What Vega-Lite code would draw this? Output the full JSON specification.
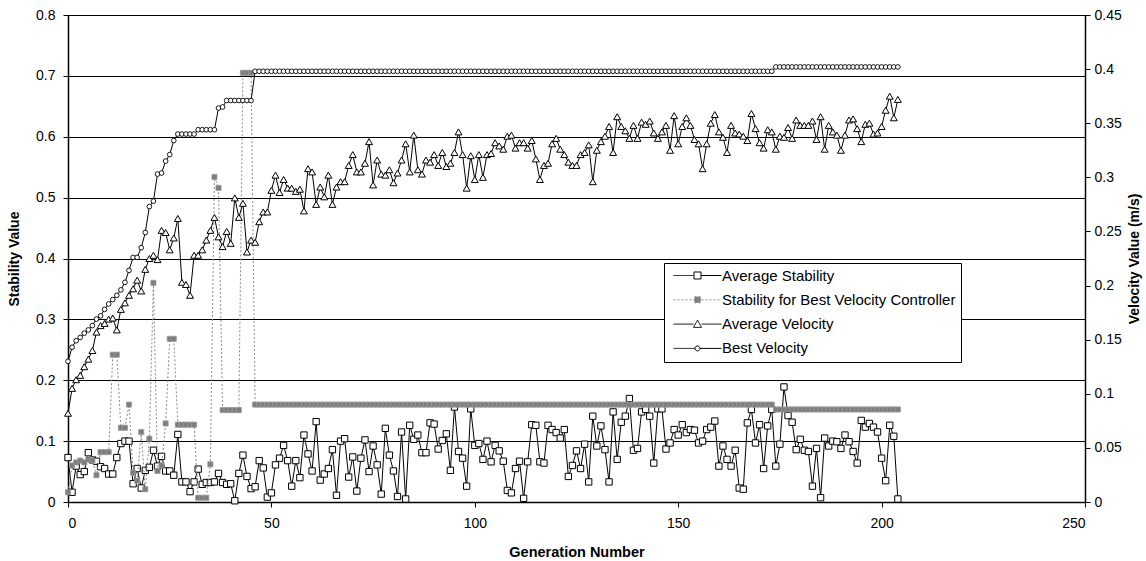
{
  "$schema": "https://vega.github.io/schema/vega-lite/v6.json",
  "width": 1017,
  "height": 487,
  "autosize": "none",
  "padding": {"left": 68, "top": 15, "right": 61, "bottom": 59},
  "background": "white",
  "config": {
    "view": {"stroke": null},
    "font": "Liberation Sans",
    "axis": {
      "labelFont": "Liberation Sans",
      "titleFont": "Liberation Sans",
      "labelColor": "black",
      "titleColor": "black",
      "domainColor": "black",
      "tickColor": "black",
      "labelFontSize": 14,
      "titleFontSize": 14,
      "titleFontWeight": "bold"
    },
    "legend": {
      "orient": "none", "legendX": 596, "legendY": 248, "title": null,
      "strokeColor": "black", "fillColor": "white", "padding": 5,
      "symbolSize": 36, "symbolStrokeWidth": 1,
      "labelFontSize": 15, "labelFont": "Liberation Sans", "labelColor": "black",
      "labelLimit": 0, "rowPadding": 8.3, "labelOffset": 38
    }
  },
  "data": {
    "values": [
      {"gen":0,"avgStab":0.073,"stabBest":0.016,"avgVel":0.082,"bestVel":0.13},
      {"gen":1,"avgStab":0.016,"stabBest":0.06,"avgVel":0.105,"bestVel":0.143},
      {"gen":2,"avgStab":0.059,"stabBest":0.065,"avgVel":0.113,"bestVel":0.149},
      {"gen":3,"avgStab":0.045,"stabBest":0.068,"avgVel":0.117,"bestVel":0.152},
      {"gen":4,"avgStab":0.05,"stabBest":0.065,"avgVel":0.125,"bestVel":0.156},
      {"gen":5,"avgStab":0.081,"stabBest":0.07,"avgVel":0.132,"bestVel":0.159},
      {"gen":6,"avgStab":0.069,"stabBest":0.068,"avgVel":0.14,"bestVel":0.163},
      {"gen":7,"avgStab":0.067,"stabBest":0.044,"avgVel":0.157,"bestVel":0.169},
      {"gen":8,"avgStab":0.058,"stabBest":0.082,"avgVel":0.163,"bestVel":0.172},
      {"gen":9,"avgStab":0.055,"stabBest":0.082,"avgVel":0.165,"bestVel":0.178},
      {"gen":10,"avgStab":0.046,"stabBest":0.082,"avgVel":0.169,"bestVel":0.183},
      {"gen":11,"avgStab":0.046,"stabBest":0.242,"avgVel":0.17,"bestVel":0.187},
      {"gen":12,"avgStab":0.073,"stabBest":0.242,"avgVel":0.159,"bestVel":0.191},
      {"gen":13,"avgStab":0.096,"stabBest":0.122,"avgVel":0.178,"bestVel":0.196},
      {"gen":14,"avgStab":0.1,"stabBest":0.122,"avgVel":0.184,"bestVel":0.203},
      {"gen":15,"avgStab":0.1,"stabBest":0.16,"avgVel":0.191,"bestVel":0.214},
      {"gen":16,"avgStab":0.03,"stabBest":0.048,"avgVel":0.197,"bestVel":0.226},
      {"gen":17,"avgStab":0.055,"stabBest":0.035,"avgVel":0.205,"bestVel":0.226},
      {"gen":18,"avgStab":0.023,"stabBest":0.115,"avgVel":0.195,"bestVel":0.235},
      {"gen":19,"avgStab":0.052,"stabBest":0.021,"avgVel":0.215,"bestVel":0.249},
      {"gen":20,"avgStab":0.057,"stabBest":0.104,"avgVel":0.225,"bestVel":0.273},
      {"gen":21,"avgStab":0.085,"stabBest":0.36,"avgVel":0.228,"bestVel":0.278},
      {"gen":22,"avgStab":0.059,"stabBest":0.051,"avgVel":0.224,"bestVel":0.303},
      {"gen":23,"avgStab":0.075,"stabBest":0.06,"avgVel":0.251,"bestVel":0.304},
      {"gen":24,"avgStab":0.051,"stabBest":0.129,"avgVel":0.249,"bestVel":0.315},
      {"gen":25,"avgStab":0.051,"stabBest":0.268,"avgVel":0.233,"bestVel":0.321},
      {"gen":26,"avgStab":0.044,"stabBest":0.268,"avgVel":0.244,"bestVel":0.334},
      {"gen":27,"avgStab":0.111,"stabBest":0.127,"avgVel":0.262,"bestVel":0.34},
      {"gen":28,"avgStab":0.033,"stabBest":0.127,"avgVel":0.203,"bestVel":0.34},
      {"gen":29,"avgStab":0.033,"stabBest":0.127,"avgVel":0.201,"bestVel":0.34},
      {"gen":30,"avgStab":0.017,"stabBest":0.127,"avgVel":0.191,"bestVel":0.34},
      {"gen":31,"avgStab":0.033,"stabBest":0.127,"avgVel":0.228,"bestVel":0.34},
      {"gen":32,"avgStab":0.054,"stabBest":0.007,"avgVel":0.228,"bestVel":0.344},
      {"gen":33,"avgStab":0.029,"stabBest":0.007,"avgVel":0.233,"bestVel":0.344},
      {"gen":34,"avgStab":0.032,"stabBest":0.007,"avgVel":0.242,"bestVel":0.344},
      {"gen":35,"avgStab":0.032,"stabBest":0.062,"avgVel":0.251,"bestVel":0.344},
      {"gen":36,"avgStab":0.033,"stabBest":0.534,"avgVel":0.263,"bestVel":0.344},
      {"gen":37,"avgStab":0.047,"stabBest":0.516,"avgVel":0.245,"bestVel":0.364},
      {"gen":38,"avgStab":0.032,"stabBest":0.151,"avgVel":0.236,"bestVel":0.365},
      {"gen":39,"avgStab":0.029,"stabBest":0.151,"avgVel":0.25,"bestVel":0.371},
      {"gen":40,"avgStab":0.03,"stabBest":0.151,"avgVel":0.239,"bestVel":0.371},
      {"gen":41,"avgStab":0.002,"stabBest":0.151,"avgVel":0.281,"bestVel":0.371},
      {"gen":42,"avgStab":0.047,"stabBest":0.151,"avgVel":0.263,"bestVel":0.371},
      {"gen":43,"avgStab":0.077,"stabBest":0.705,"avgVel":0.276,"bestVel":0.371},
      {"gen":44,"avgStab":0.042,"stabBest":0.705,"avgVel":0.231,"bestVel":0.371},
      {"gen":45,"avgStab":0.022,"stabBest":0.705,"avgVel":0.242,"bestVel":0.371},
      {"gen":46,"avgStab":0.025,"stabBest":0.16,"avgVel":0.24,"bestVel":0.398},
      {"gen":47,"avgStab":0.068,"stabBest":0.16,"avgVel":0.259,"bestVel":0.398},
      {"gen":48,"avgStab":0.056,"stabBest":0.16,"avgVel":0.268,"bestVel":0.398},
      {"gen":49,"avgStab":0.008,"stabBest":0.16,"avgVel":0.268,"bestVel":0.398},
      {"gen":50,"avgStab":0.015,"stabBest":0.16,"avgVel":0.288,"bestVel":0.398},
      {"gen":51,"avgStab":0.061,"stabBest":0.16,"avgVel":0.302,"bestVel":0.398},
      {"gen":52,"avgStab":0.072,"stabBest":0.16,"avgVel":0.286,"bestVel":0.398},
      {"gen":53,"avgStab":0.093,"stabBest":0.16,"avgVel":0.298,"bestVel":0.398},
      {"gen":54,"avgStab":0.068,"stabBest":0.16,"avgVel":0.29,"bestVel":0.398},
      {"gen":55,"avgStab":0.026,"stabBest":0.16,"avgVel":0.29,"bestVel":0.398},
      {"gen":56,"avgStab":0.068,"stabBest":0.16,"avgVel":0.287,"bestVel":0.398},
      {"gen":57,"avgStab":0.04,"stabBest":0.16,"avgVel":0.289,"bestVel":0.398},
      {"gen":58,"avgStab":0.11,"stabBest":0.16,"avgVel":0.269,"bestVel":0.398},
      {"gen":59,"avgStab":0.079,"stabBest":0.16,"avgVel":0.308,"bestVel":0.398},
      {"gen":60,"avgStab":0.051,"stabBest":0.16,"avgVel":0.305,"bestVel":0.398},
      {"gen":61,"avgStab":0.132,"stabBest":0.16,"avgVel":0.275,"bestVel":0.398},
      {"gen":62,"avgStab":0.036,"stabBest":0.16,"avgVel":0.291,"bestVel":0.398},
      {"gen":63,"avgStab":0.046,"stabBest":0.16,"avgVel":0.282,"bestVel":0.398},
      {"gen":64,"avgStab":0.055,"stabBest":0.16,"avgVel":0.302,"bestVel":0.398},
      {"gen":65,"avgStab":0.086,"stabBest":0.16,"avgVel":0.275,"bestVel":0.398},
      {"gen":66,"avgStab":0.011,"stabBest":0.16,"avgVel":0.291,"bestVel":0.398},
      {"gen":67,"avgStab":0.1,"stabBest":0.16,"avgVel":0.296,"bestVel":0.398},
      {"gen":68,"avgStab":0.104,"stabBest":0.16,"avgVel":0.296,"bestVel":0.398},
      {"gen":69,"avgStab":0.041,"stabBest":0.16,"avgVel":0.311,"bestVel":0.398},
      {"gen":70,"avgStab":0.074,"stabBest":0.16,"avgVel":0.321,"bestVel":0.398},
      {"gen":71,"avgStab":0.018,"stabBest":0.16,"avgVel":0.305,"bestVel":0.398},
      {"gen":72,"avgStab":0.072,"stabBest":0.16,"avgVel":0.305,"bestVel":0.398},
      {"gen":73,"avgStab":0.102,"stabBest":0.16,"avgVel":0.313,"bestVel":0.398},
      {"gen":74,"avgStab":0.05,"stabBest":0.16,"avgVel":0.333,"bestVel":0.398},
      {"gen":75,"avgStab":0.092,"stabBest":0.16,"avgVel":0.293,"bestVel":0.398},
      {"gen":76,"avgStab":0.061,"stabBest":0.16,"avgVel":0.316,"bestVel":0.398},
      {"gen":77,"avgStab":0.013,"stabBest":0.16,"avgVel":0.303,"bestVel":0.398},
      {"gen":78,"avgStab":0.121,"stabBest":0.16,"avgVel":0.302,"bestVel":0.398},
      {"gen":79,"avgStab":0.077,"stabBest":0.16,"avgVel":0.307,"bestVel":0.398},
      {"gen":80,"avgStab":0.051,"stabBest":0.16,"avgVel":0.295,"bestVel":0.398},
      {"gen":81,"avgStab":0.009,"stabBest":0.16,"avgVel":0.304,"bestVel":0.398},
      {"gen":82,"avgStab":0.115,"stabBest":0.16,"avgVel":0.316,"bestVel":0.398},
      {"gen":83,"avgStab":0.005,"stabBest":0.16,"avgVel":0.331,"bestVel":0.398},
      {"gen":84,"avgStab":0.126,"stabBest":0.16,"avgVel":0.305,"bestVel":0.398},
      {"gen":85,"avgStab":0.103,"stabBest":0.16,"avgVel":0.339,"bestVel":0.398},
      {"gen":86,"avgStab":0.11,"stabBest":0.16,"avgVel":0.307,"bestVel":0.398},
      {"gen":87,"avgStab":0.081,"stabBest":0.16,"avgVel":0.303,"bestVel":0.398},
      {"gen":88,"avgStab":0.081,"stabBest":0.16,"avgVel":0.316,"bestVel":0.398},
      {"gen":89,"avgStab":0.13,"stabBest":0.16,"avgVel":0.314,"bestVel":0.398},
      {"gen":90,"avgStab":0.128,"stabBest":0.16,"avgVel":0.321,"bestVel":0.398},
      {"gen":91,"avgStab":0.087,"stabBest":0.16,"avgVel":0.311,"bestVel":0.398},
      {"gen":92,"avgStab":0.101,"stabBest":0.16,"avgVel":0.323,"bestVel":0.398},
      {"gen":93,"avgStab":0.112,"stabBest":0.16,"avgVel":0.31,"bestVel":0.398},
      {"gen":94,"avgStab":0.052,"stabBest":0.16,"avgVel":0.313,"bestVel":0.398},
      {"gen":95,"avgStab":0.156,"stabBest":0.16,"avgVel":0.323,"bestVel":0.398},
      {"gen":96,"avgStab":0.083,"stabBest":0.16,"avgVel":0.342,"bestVel":0.398},
      {"gen":97,"avgStab":0.072,"stabBest":0.16,"avgVel":0.321,"bestVel":0.398},
      {"gen":98,"avgStab":0.026,"stabBest":0.16,"avgVel":0.29,"bestVel":0.398},
      {"gen":99,"avgStab":0.153,"stabBest":0.16,"avgVel":0.32,"bestVel":0.398},
      {"gen":100,"avgStab":0.093,"stabBest":0.16,"avgVel":0.298,"bestVel":0.398},
      {"gen":101,"avgStab":0.096,"stabBest":0.16,"avgVel":0.321,"bestVel":0.398},
      {"gen":102,"avgStab":0.07,"stabBest":0.16,"avgVel":0.3,"bestVel":0.398},
      {"gen":103,"avgStab":0.1,"stabBest":0.16,"avgVel":0.321,"bestVel":0.398},
      {"gen":104,"avgStab":0.066,"stabBest":0.16,"avgVel":0.322,"bestVel":0.398},
      {"gen":105,"avgStab":0.093,"stabBest":0.16,"avgVel":0.332,"bestVel":0.398},
      {"gen":106,"avgStab":0.084,"stabBest":0.16,"avgVel":0.329,"bestVel":0.398},
      {"gen":107,"avgStab":0.067,"stabBest":0.16,"avgVel":0.326,"bestVel":0.398},
      {"gen":108,"avgStab":0.019,"stabBest":0.16,"avgVel":0.338,"bestVel":0.398},
      {"gen":109,"avgStab":0.015,"stabBest":0.16,"avgVel":0.339,"bestVel":0.398},
      {"gen":110,"avgStab":0.055,"stabBest":0.16,"avgVel":0.327,"bestVel":0.398},
      {"gen":111,"avgStab":0.067,"stabBest":0.16,"avgVel":0.332,"bestVel":0.398},
      {"gen":112,"avgStab":0.006,"stabBest":0.16,"avgVel":0.332,"bestVel":0.398},
      {"gen":113,"avgStab":0.066,"stabBest":0.16,"avgVel":0.327,"bestVel":0.398},
      {"gen":114,"avgStab":0.127,"stabBest":0.16,"avgVel":0.334,"bestVel":0.398},
      {"gen":115,"avgStab":0.126,"stabBest":0.16,"avgVel":0.317,"bestVel":0.398},
      {"gen":116,"avgStab":0.066,"stabBest":0.16,"avgVel":0.298,"bestVel":0.398},
      {"gen":117,"avgStab":0.064,"stabBest":0.16,"avgVel":0.311,"bestVel":0.398},
      {"gen":118,"avgStab":0.126,"stabBest":0.16,"avgVel":0.313,"bestVel":0.398},
      {"gen":119,"avgStab":0.119,"stabBest":0.16,"avgVel":0.331,"bestVel":0.398},
      {"gen":120,"avgStab":0.114,"stabBest":0.16,"avgVel":0.336,"bestVel":0.398},
      {"gen":121,"avgStab":0.105,"stabBest":0.16,"avgVel":0.326,"bestVel":0.398},
      {"gen":122,"avgStab":0.119,"stabBest":0.16,"avgVel":0.321,"bestVel":0.398},
      {"gen":123,"avgStab":0.042,"stabBest":0.16,"avgVel":0.314,"bestVel":0.398},
      {"gen":124,"avgStab":0.06,"stabBest":0.16,"avgVel":0.311,"bestVel":0.398},
      {"gen":125,"avgStab":0.084,"stabBest":0.16,"avgVel":0.311,"bestVel":0.398},
      {"gen":126,"avgStab":0.055,"stabBest":0.16,"avgVel":0.321,"bestVel":0.398},
      {"gen":127,"avgStab":0.095,"stabBest":0.16,"avgVel":0.323,"bestVel":0.398},
      {"gen":128,"avgStab":0.033,"stabBest":0.16,"avgVel":0.33,"bestVel":0.398},
      {"gen":129,"avgStab":0.141,"stabBest":0.16,"avgVel":0.296,"bestVel":0.398},
      {"gen":130,"avgStab":0.092,"stabBest":0.16,"avgVel":0.325,"bestVel":0.398},
      {"gen":131,"avgStab":0.125,"stabBest":0.16,"avgVel":0.333,"bestVel":0.398},
      {"gen":132,"avgStab":0.086,"stabBest":0.16,"avgVel":0.338,"bestVel":0.398},
      {"gen":133,"avgStab":0.033,"stabBest":0.16,"avgVel":0.347,"bestVel":0.398},
      {"gen":134,"avgStab":0.148,"stabBest":0.16,"avgVel":0.323,"bestVel":0.398},
      {"gen":135,"avgStab":0.07,"stabBest":0.16,"avgVel":0.356,"bestVel":0.398},
      {"gen":136,"avgStab":0.131,"stabBest":0.16,"avgVel":0.347,"bestVel":0.398},
      {"gen":137,"avgStab":0.141,"stabBest":0.16,"avgVel":0.343,"bestVel":0.398},
      {"gen":138,"avgStab":0.17,"stabBest":0.16,"avgVel":0.336,"bestVel":0.398},
      {"gen":139,"avgStab":0.085,"stabBest":0.16,"avgVel":0.348,"bestVel":0.398},
      {"gen":140,"avgStab":0.088,"stabBest":0.16,"avgVel":0.336,"bestVel":0.398},
      {"gen":141,"avgStab":0.148,"stabBest":0.16,"avgVel":0.351,"bestVel":0.398},
      {"gen":142,"avgStab":0.152,"stabBest":0.16,"avgVel":0.349,"bestVel":0.398},
      {"gen":143,"avgStab":0.141,"stabBest":0.16,"avgVel":0.352,"bestVel":0.398},
      {"gen":144,"avgStab":0.064,"stabBest":0.16,"avgVel":0.341,"bestVel":0.398},
      {"gen":145,"avgStab":0.153,"stabBest":0.16,"avgVel":0.336,"bestVel":0.398},
      {"gen":146,"avgStab":0.153,"stabBest":0.16,"avgVel":0.342,"bestVel":0.398},
      {"gen":147,"avgStab":0.087,"stabBest":0.16,"avgVel":0.348,"bestVel":0.398},
      {"gen":148,"avgStab":0.097,"stabBest":0.16,"avgVel":0.325,"bestVel":0.398},
      {"gen":149,"avgStab":0.119,"stabBest":0.16,"avgVel":0.357,"bestVel":0.398},
      {"gen":150,"avgStab":0.11,"stabBest":0.16,"avgVel":0.331,"bestVel":0.398},
      {"gen":151,"avgStab":0.127,"stabBest":0.16,"avgVel":0.347,"bestVel":0.398},
      {"gen":152,"avgStab":0.114,"stabBest":0.16,"avgVel":0.355,"bestVel":0.398},
      {"gen":153,"avgStab":0.119,"stabBest":0.16,"avgVel":0.348,"bestVel":0.398},
      {"gen":154,"avgStab":0.118,"stabBest":0.16,"avgVel":0.335,"bestVel":0.398},
      {"gen":155,"avgStab":0.097,"stabBest":0.16,"avgVel":0.331,"bestVel":0.398},
      {"gen":156,"avgStab":0.1,"stabBest":0.16,"avgVel":0.308,"bestVel":0.398},
      {"gen":157,"avgStab":0.119,"stabBest":0.16,"avgVel":0.331,"bestVel":0.398},
      {"gen":158,"avgStab":0.123,"stabBest":0.16,"avgVel":0.35,"bestVel":0.398},
      {"gen":159,"avgStab":0.133,"stabBest":0.16,"avgVel":0.358,"bestVel":0.398},
      {"gen":160,"avgStab":0.059,"stabBest":0.16,"avgVel":0.342,"bestVel":0.398},
      {"gen":161,"avgStab":0.092,"stabBest":0.16,"avgVel":0.337,"bestVel":0.398},
      {"gen":162,"avgStab":0.07,"stabBest":0.16,"avgVel":0.323,"bestVel":0.398},
      {"gen":163,"avgStab":0.059,"stabBest":0.16,"avgVel":0.348,"bestVel":0.398},
      {"gen":164,"avgStab":0.085,"stabBest":0.16,"avgVel":0.341,"bestVel":0.398},
      {"gen":165,"avgStab":0.023,"stabBest":0.16,"avgVel":0.34,"bestVel":0.398},
      {"gen":166,"avgStab":0.021,"stabBest":0.16,"avgVel":0.338,"bestVel":0.398},
      {"gen":167,"avgStab":0.13,"stabBest":0.16,"avgVel":0.334,"bestVel":0.398},
      {"gen":168,"avgStab":0.152,"stabBest":0.16,"avgVel":0.359,"bestVel":0.398},
      {"gen":169,"avgStab":0.097,"stabBest":0.16,"avgVel":0.345,"bestVel":0.398},
      {"gen":170,"avgStab":0.127,"stabBest":0.16,"avgVel":0.332,"bestVel":0.398},
      {"gen":171,"avgStab":0.055,"stabBest":0.16,"avgVel":0.327,"bestVel":0.398},
      {"gen":172,"avgStab":0.125,"stabBest":0.16,"avgVel":0.344,"bestVel":0.398},
      {"gen":173,"avgStab":0.152,"stabBest":0.16,"avgVel":0.342,"bestVel":0.398},
      {"gen":174,"avgStab":0.059,"stabBest":0.152,"avgVel":0.326,"bestVel":0.402},
      {"gen":175,"avgStab":0.095,"stabBest":0.152,"avgVel":0.338,"bestVel":0.402},
      {"gen":176,"avgStab":0.189,"stabBest":0.152,"avgVel":0.337,"bestVel":0.402},
      {"gen":177,"avgStab":0.142,"stabBest":0.152,"avgVel":0.346,"bestVel":0.402},
      {"gen":178,"avgStab":0.131,"stabBest":0.152,"avgVel":0.336,"bestVel":0.402},
      {"gen":179,"avgStab":0.086,"stabBest":0.152,"avgVel":0.353,"bestVel":0.402},
      {"gen":180,"avgStab":0.103,"stabBest":0.152,"avgVel":0.348,"bestVel":0.402},
      {"gen":181,"avgStab":0.085,"stabBest":0.152,"avgVel":0.348,"bestVel":0.402},
      {"gen":182,"avgStab":0.083,"stabBest":0.152,"avgVel":0.348,"bestVel":0.402},
      {"gen":183,"avgStab":0.026,"stabBest":0.152,"avgVel":0.352,"bestVel":0.402},
      {"gen":184,"avgStab":0.088,"stabBest":0.152,"avgVel":0.335,"bestVel":0.402},
      {"gen":185,"avgStab":0.007,"stabBest":0.152,"avgVel":0.356,"bestVel":0.402},
      {"gen":186,"avgStab":0.105,"stabBest":0.152,"avgVel":0.326,"bestVel":0.402},
      {"gen":187,"avgStab":0.092,"stabBest":0.152,"avgVel":0.348,"bestVel":0.402},
      {"gen":188,"avgStab":0.1,"stabBest":0.152,"avgVel":0.342,"bestVel":0.402},
      {"gen":189,"avgStab":0.099,"stabBest":0.152,"avgVel":0.339,"bestVel":0.402},
      {"gen":190,"avgStab":0.088,"stabBest":0.152,"avgVel":0.325,"bestVel":0.402},
      {"gen":191,"avgStab":0.11,"stabBest":0.152,"avgVel":0.339,"bestVel":0.402},
      {"gen":192,"avgStab":0.099,"stabBest":0.152,"avgVel":0.353,"bestVel":0.402},
      {"gen":193,"avgStab":0.083,"stabBest":0.152,"avgVel":0.354,"bestVel":0.402},
      {"gen":194,"avgStab":0.064,"stabBest":0.152,"avgVel":0.345,"bestVel":0.402},
      {"gen":195,"avgStab":0.134,"stabBest":0.152,"avgVel":0.333,"bestVel":0.402},
      {"gen":196,"avgStab":0.123,"stabBest":0.152,"avgVel":0.349,"bestVel":0.402},
      {"gen":197,"avgStab":0.129,"stabBest":0.152,"avgVel":0.35,"bestVel":0.402},
      {"gen":198,"avgStab":0.123,"stabBest":0.152,"avgVel":0.34,"bestVel":0.402},
      {"gen":199,"avgStab":0.115,"stabBest":0.152,"avgVel":0.341,"bestVel":0.402},
      {"gen":200,"avgStab":0.072,"stabBest":0.152,"avgVel":0.347,"bestVel":0.402},
      {"gen":201,"avgStab":0.035,"stabBest":0.152,"avgVel":0.362,"bestVel":0.402},
      {"gen":202,"avgStab":0.126,"stabBest":0.152,"avgVel":0.375,"bestVel":0.402},
      {"gen":203,"avgStab":0.108,"stabBest":0.152,"avgVel":0.355,"bestVel":0.402},
      {"gen":204,"avgStab":0.005,"stabBest":0.152,"avgVel":0.372,"bestVel":0.402}
    ]
  },
  "encoding": {
    "x": {
      "field": "gen",
      "type": "quantitative",
      "scale": {"domain": [0, 250], "nice": false},
      "axis": {
        "title": "Generation Number",
        "titleFontSize": 14.5,
        "values": [0, 50, 100, 150, 200, 250],
        "grid": false,
        "tickSize": 5,
        "labelPadding": 9,
        "titlePadding": 15,
        "domainWidth": 1.5
      }
    }
  },
  "layer": [
    {
      "encoding": {
        "y": {
          "type": "quantitative",
          "scale": {"domain": [0, 0.8], "nice": false},
          "axis": {
            "orient": "left",
            "title": "Stability Value",
            "values": [0, 0.1, 0.2, 0.3, 0.4, 0.5, 0.6, 0.7, 0.8],
            "format": "~g",
            "grid": true,
            "gridColor": "black",
            "gridWidth": 1.2,
            "gridOpacity": 1,
            "tickSize": 5,
            "labelPadding": 8,
            "titlePadding": 14,
            "domainWidth": 1.5
          }
        }
      },
      "layer": [
        {
          "mark": {"type": "line", "stroke": "black", "strokeWidth": 1},
          "encoding": {"y": {"field": "avgStab"}}
        },
        {
          "mark": {"type": "point", "shape": "square", "size": 40, "filled": true, "fill": "white", "stroke": "black", "strokeWidth": 1, "opacity": 1},
          "encoding": {"y": {"field": "avgStab"}}
        },
        {
          "mark": {"type": "line", "stroke": "#8a8a8a", "strokeWidth": 1, "strokeDash": [2, 2]},
          "encoding": {"y": {"field": "stabBest"}}
        },
        {
          "mark": {"type": "point", "shape": "square", "size": 26, "filled": true, "fill": "#7d7d7d", "stroke": "#9a9a9a", "strokeWidth": 0.8, "opacity": 1},
          "encoding": {"y": {"field": "stabBest"}}
        },
        {
          "transform": [{"filter": "datum.gen < -1"}],
          "mark": {"type": "point", "strokeWidth": 1, "opacity": 1},
          "encoding": {
            "y": {"field": "avgStab"},
            "shape": {
              "field": "series",
              "type": "nominal",
              "scale": {
                "domain": ["Average Stability", "Stability for Best Velocity Controller", "Average Velocity", "Best Velocity"],
                "range": [
                  "M-1,0H5.83M8.17,0H15M5.83,-1.17H8.17V1.17H5.83Z",
                  "M-1,0H15M6,-1H8V1H6Z",
                  "M-1,0H5.67M8.33,0H15M7,-1.33L8.33,1.1L5.67,1.1Z",
                  "M-1,0H6.17M7.83,0H15M7.83,0A0.83,0.83,0,1,1,6.17,0A0.83,0.83,0,1,1,7.83,0Z"
                ]
              }
            },
            "fill": {
              "field": "series",
              "type": "nominal",
              "scale": {
                "domain": ["Average Stability", "Stability for Best Velocity Controller", "Average Velocity", "Best Velocity"],
                "range": ["white", "#7d7d7d", "white", "white"]
              }
            },
            "stroke": {
              "field": "series",
              "type": "nominal",
              "scale": {
                "domain": ["Average Stability", "Stability for Best Velocity Controller", "Average Velocity", "Best Velocity"],
                "range": ["black", "#8a8a8a", "black", "black"]
              }
            },
            "strokeDash": {
              "field": "series",
              "type": "nominal",
              "scale": {
                "domain": ["Average Stability", "Stability for Best Velocity Controller", "Average Velocity", "Best Velocity"],
                "range": [[1, 0], [2, 2], [1, 0], [1, 0]]
              }
            }
          }
        }
      ]
    },
    {
      "encoding": {
        "y": {
          "type": "quantitative",
          "scale": {"domain": [0, 0.45], "nice": false},
          "axis": {
            "orient": "right",
            "title": "Velocity Value (m/s)",
            "titleAngle": 270,
            "values": [0, 0.05, 0.1, 0.15, 0.2, 0.25, 0.3, 0.35, 0.4, 0.45],
            "format": "~g",
            "grid": false,
            "tickSize": 5,
            "labelPadding": 4,
            "titlePadding": 20,
            "domainWidth": 1.5
          }
        }
      },
      "layer": [
        {
          "mark": {"type": "line", "stroke": "black", "strokeWidth": 1},
          "encoding": {"y": {"field": "avgVel"}}
        },
        {
          "mark": {"type": "point", "shape": "triangle-up", "size": 48, "filled": true, "fill": "white", "stroke": "black", "strokeWidth": 1, "opacity": 1},
          "encoding": {"y": {"field": "avgVel"}}
        },
        {
          "mark": {"type": "line", "stroke": "black", "strokeWidth": 1},
          "encoding": {"y": {"field": "bestVel"}}
        },
        {
          "mark": {"type": "point", "shape": "circle", "size": 22, "filled": true, "fill": "white", "stroke": "black", "strokeWidth": 0.9, "opacity": 1},
          "encoding": {"y": {"field": "bestVel"}}
        }
      ]
    }
  ],
  "resolve": {"scale": {"y": "independent"}}
}
